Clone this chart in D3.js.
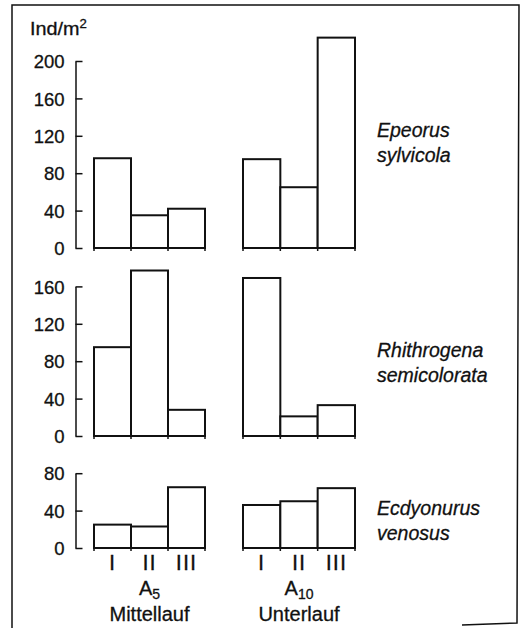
<!DOCTYPE html>
<html>
<head>
<meta charset="utf-8">
<script src="https://cdn.jsdelivr.net/npm/d3@7"></script>
<style>
  body { margin: 0; background: #fff; }
  svg { display: block; font-family: "Liberation Sans", Arial, Helvetica, sans-serif; }
  svg text { stroke: #111; stroke-width: 0.3px; }
</style>
</head>
<body>
<div id="chart"></div>
<script>
const categories = ["I", "II", "III"];
const sites = ["A5", "A10"];
const siteNames = ["Mittellauf", "Unterlauf"];

const epeorusA5 = [96, 35, 42];
const epeorusA10 = [95, 65, 225];
const rhithrogenaA5 = [95, 177, 28];
const rhithrogenaA10 = [169, 21, 33];
const ecdyonurusA5 = [25, 23, 65];
const ecdyonurusA10 = [46, 50, 64];

const ticks1 = [0, 40, 80, 120, 160, 200];
const ticks2 = [0, 40, 80, 120, 160];
const ticks3 = [0, 40, 80];

const width = 527;
const height = 628;
const pxPerUnit = 0.935;
const axisX = 75.5;

const svg = d3
  .select("#chart")
  .append("svg")
  .attr("width", width)
  .attr("height", height);

// outer frame (scan shows bottom edge only at right)
svg
  .append("path")
  .attr("d", "M12,628 L12,5 L519,5 L517,623 L462,625")
  .attr("fill", "none")
  .attr("stroke", "#111")
  .attr("stroke-width", 1.5);

const xA5 = d3.scaleBand().domain(categories).range([94, 205]);
const xA10 = d3.scaleBand().domain(categories).range([243, 355]);
const xScales = [xA5, xA10];

const panels = [
  { base: 248, ticks: ticks1, values: [epeorusA5, epeorusA10], name: ["Epeorus", "sylvicola"], labelY: 137 },
  { base: 436, ticks: ticks2, values: [rhithrogenaA5, rhithrogenaA10], name: ["Rhithrogena", "semicolorata"], labelY: 357 },
  { base: 548, ticks: ticks3, values: [ecdyonurusA5, ecdyonurusA10], name: ["Ecdyonurus", "venosus"], labelY: 515 },
];

panels.forEach((p) => {
  const top = d3.max(p.ticks);
  const y = d3
    .scaleLinear()
    .domain([0, top])
    .range([p.base, p.base - top * pxPerUnit]);

  const axis = d3
    .axisLeft(y)
    .tickValues(p.ticks)
    .tickSize(-7)
    .tickSizeOuter(0)
    .tickPadding(11);

  const g = svg
    .append("g")
    .attr("transform", `translate(${axisX},0)`)
    .call(axis);
  g.select(".domain").attr("stroke", "#111").attr("stroke-width", 1.5);
  g.selectAll(".tick line").attr("stroke", "#111").attr("stroke-width", 1.5);
  g.selectAll(".tick text")
    .attr("font-size", 18.5)
    .attr("font-family", "Liberation Sans, Arial, sans-serif")
    .attr("fill", "#111")
    .attr("dy", "0.36em");

  p.values.forEach((vals, si) => {
    const x = xScales[si];
    svg
      .append("g")
      .selectAll("rect")
      .data(categories)
      .enter()
      .append("rect")
      .attr("x", (c) => x(c))
      .attr("y", (c, i) => y(vals[i]))
      .attr("width", x.bandwidth())
      .attr("height", (c, i) => y(0) - y(vals[i]))
      .attr("fill", "#fff")
      .attr("stroke", "#111")
      .attr("stroke-width", 2);

    // small marks under the bar edges
    const edges = categories.map((c) => x(c)).concat([x.range()[1]]);
    svg
      .append("g")
      .selectAll("line")
      .data(edges)
      .enter()
      .append("line")
      .attr("x1", (d) => d)
      .attr("x2", (d) => d)
      .attr("y1", y(0))
      .attr("y2", y(0) + 3)
      .attr("stroke", "#111")
      .attr("stroke-width", 1.5);
  });

  const label = svg
    .append("text")
    .attr("x", 377)
    .attr("y", p.labelY)
    .attr("font-size", 19.5)
    .attr("font-style", "italic")
    .attr("fill", "#111");
  label.append("tspan").attr("x", 377).text(p.name[0]);
  label.append("tspan").attr("x", 377).attr("dy", 25).text(p.name[1]);
});

// unit label
const unit = svg
  .append("text")
  .attr("transform", "translate(30,35) scale(1.1,1)")
  .attr("font-size", 18)
  .attr("fill", "#111");
unit.append("tspan").text("Ind/m");
unit.append("tspan").attr("font-size", 12).attr("dy", -7).text("2");

// roman numerals and site labels
xScales.forEach((x, si) => {
  svg
    .append("g")
    .selectAll("text")
    .data(categories)
    .enter()
    .append("text")
    .attr("x", (c) => x(c) + x.bandwidth() / 2)
    .attr("y", 570)
    .attr("text-anchor", "middle")
    .attr("font-size", 22)
    .attr("letter-spacing", 1)
    .attr("fill", "#111")
    .text((c) => c);

  const cx = (x.range()[0] + x.range()[1]) / 2;
  const site = svg
    .append("text")
    .attr("x", cx)
    .attr("y", 595)
    .attr("text-anchor", "middle")
    .attr("font-size", 20)
    .attr("fill", "#111");
  site.append("tspan").text(sites[si].slice(0, 1));
  site.append("tspan").attr("font-size", 14).attr("dy", 4).text(sites[si].slice(1));

  svg
    .append("text")
    .attr("x", cx)
    .attr("y", 621)
    .attr("text-anchor", "middle")
    .attr("font-size", 20)
    .attr("fill", "#111")
    .text(siteNames[si]);
});
</script>
</body>
</html>
